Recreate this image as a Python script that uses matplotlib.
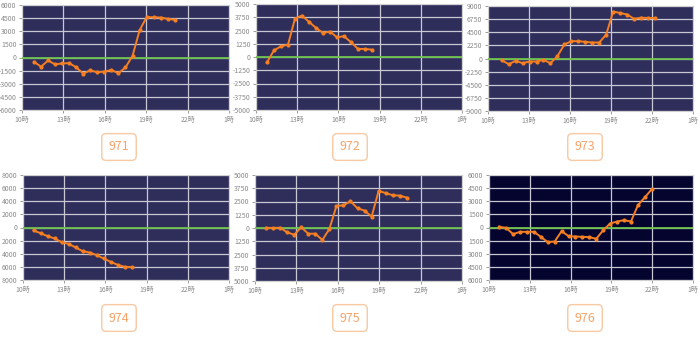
import numpy as np
import matplotlib.pyplot as plt
from matplotlib.ticker import FuncFormatter

plt.rcParams['font.family'] = ['Noto Sans CJK JP', 'DejaVu Sans']

machines = ["971", "972", "973", "974", "975", "976"]

# first sample time (hours) of each machine, samples roughly every half hour
start_hours = [10.87, 10.8, 11.0, 10.77, 10.8, 10.75]
step = 0.51

diff_971 = [-490, -1050, -340, -790, -680, -640, -1125, -1840, -1460, -1690, -1600,
            -1425, -1800, -1125, 190, 3100, 4610, 4600, 4570, 4420, 4310]
diff_972 = [-505, 630, 1010, 1170, 3630, 3910, 3315, 2745, 2270, 2400, 1860, 1960,
            1390, 760, 760, 690]
diff_973 = [-285, -970, -400, -800, -515, -515, -230, -800, 400, 2400, 2970, 2970,
            2855, 2740, 2740, 4110, 8050, 7800, 7540, 6800, 7000, 6950, 6950]
diff_974 = [-457, -863, -1320, -1675, -2230, -2490, -3045, -3600, -3810, -4210,
            -4720, -5230, -5690, -5990, -6040]
diff_975 = [20, 0, 30, -410, -630, 60, -535, -535, -1130, -95, 2080, 2140, 2520,
            1860, 1640, 1070, 3495, 3300, 3085, 3055, 2865]
diff_976 = [75, -40, -760, -495, -495, -495, -1065, -1675, -1600, -420, -990, -1030,
            -1065, -1100, -1290, -305, 455, 685, 840, 685, 2550, 3450, 4380]
series = [diff_971, diff_972, diff_973, diff_974, diff_975, diff_976]

y_limits = [6000, 5000, 9000, 8000, 5000, 6000]
y_steps = [1500, 1250, 2250, 2000, 1250, 1500]
show_minus = [True, True, True, False, False, False]
backgrounds = ["#2f2e5a", "#2f2e5a", "#2f2e5a", "#2f2e5a", "#2f2e5a", "#04042e"]

hour_ticks = [10, 13, 16, 19, 22, 25]
hour_labels = ["10時", "13時", "16時", "19時", "22時", "1時"]

# axes boxes in pixels: left, top, right, bottom
boxes = [(22, 5, 229, 110), (256, 4, 462, 110), (488, 6, 693, 111),
         (23, 175, 229, 280), (255, 175, 462, 281), (489, 175, 693, 280)]
label_pos = [(119, 147), (350, 147), (585, 147), (119, 318), (350, 318), (585, 318)]

W, H = 700, 339
fig = plt.figure(figsize=(W / 100, H / 100), dpi=100)
fig.patch.set_facecolor("white")

for i in range(6):
    l, t, r, b = boxes[i]
    ax = fig.add_axes([l / W, 1 - b / H, (r - l) / W, (b - t) / H])
    ax.set_facecolor(backgrounds[i])
    lim = y_limits[i]
    ax.set_xlim(10, 25)
    ax.set_ylim(-lim, lim)
    ax.set_xticks(hour_ticks)
    ax.set_xticklabels(hour_labels)
    ax.set_yticks(np.arange(-lim, lim + 1, y_steps[i]))
    if show_minus[i]:
        ax.yaxis.set_major_formatter(FuncFormatter(lambda v, p: "%d" % v))
    else:
        ax.yaxis.set_major_formatter(FuncFormatter(lambda v, p: "%d" % abs(v)))
    ax.grid(True, color="#c8c8d4", linewidth=0.9)
    ax.tick_params(labelsize=5, colors="#8a8a8a", length=2, width=0.6, pad=2)
    for s in ax.spines.values():
        s.set_color("#d0d0d0")
        s.set_linewidth(0.8)
    ax.axhline(0, color="#6cc24a", linewidth=1.3, zorder=3)

    vals = series[i]
    hours = start_hours[i] + step * np.arange(len(vals))
    ax.plot(hours, vals, color="#f57f22", linewidth=1.4, marker="o",
            markersize=2.0, zorder=4)

    cx, cy = label_pos[i]
    fig.text(cx / W, 1 - cy / H, machines[i], ha="center", va="center",
             fontsize=9, color="#f4a36a",
             bbox=dict(boxstyle="round,pad=0.55,rounding_size=0.35",
                       fc="white", ec="#f8c9a2", lw=1.0))

fig.savefig("out.png", dpi=100)
